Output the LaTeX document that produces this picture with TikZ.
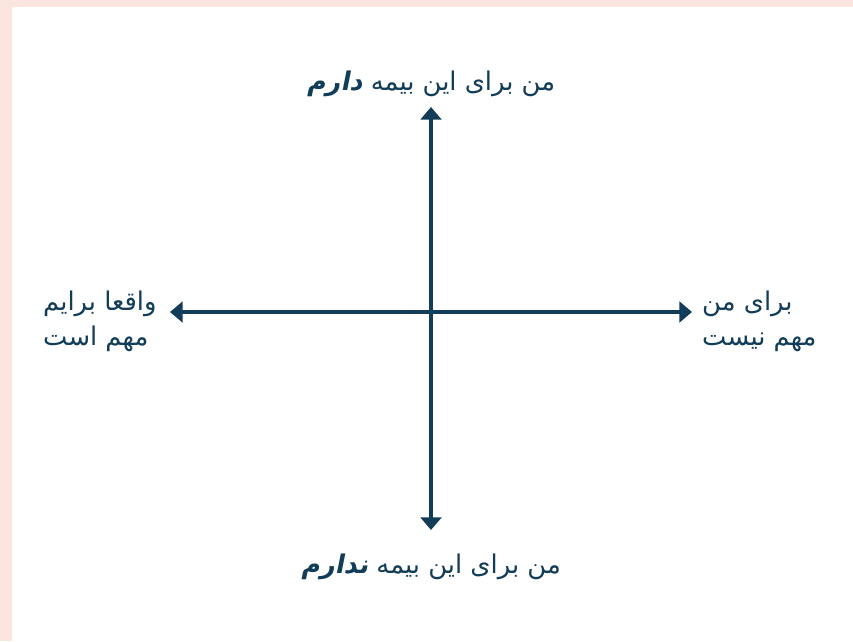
\documentclass[tikz,border=0pt]{standalone}
\usepackage{fontspec}
\usetikzlibrary{arrows.meta}
\TeXXeTstate=1
\newfontfamily\arabicfont[Script=Arabic,BoldFeatures={FakeSlant=0.2}]{DejaVu Sans}
\begin{document}
\begin{tikzpicture}[x=0.03cm,y=-0.03cm,
  axis/.style={line width=2.8pt,draw=axisnavy,
    {Triangle[width=0.62cm,length=0.38cm]}-{Triangle[width=0.62cm,length=0.38cm]}},
  axislabel/.style={text=axisnavy,inner sep=0pt,
    font=\arabicfont\fontsize{22}{30}\selectfont}]
  \definecolor{axisnavy}{HTML}{123D59}
  \definecolor{framepink}{HTML}{FCE4DF}

  \useasboundingbox (0,0) rectangle (853,641);
  \fill[framepink] (0,0) rectangle (853,641);
  \fill[white] (12,7) rectangle (853,641);

  % axis ends
  \coordinate (top) at (431,107);
  \coordinate (bottom) at (431,530);
  \coordinate (left) at (170,312);
  \coordinate (right) at (692,312);
  \draw[axis] (bottom) -- (top);
  \draw[axis] (left) -- (right);

  % labels
  \node[axislabel,anchor=base] (have) at (431,90)
    {\beginR من برای این بیمه {\bfseries دارم}\endR};
  \node[axislabel,anchor=base] (havenot) at (431,573)
    {\beginR من برای این بیمه {\bfseries ندارم}\endR};
  \node[axislabel,anchor=west,align=left] (important) at (43,321)
    {\beginR واقعا برایم\endR\\\beginR مهم است\endR};
  \node[axislabel,anchor=west,align=left] (unimportant) at (702,321)
    {\beginR برای من\endR\\\beginR مهم نیست\endR};
\end{tikzpicture}
\end{document}
